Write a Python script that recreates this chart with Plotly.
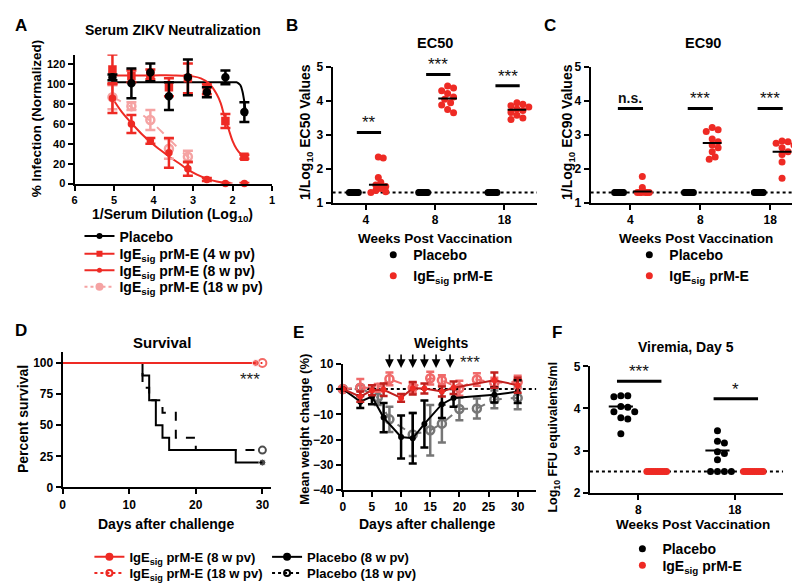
import plotly.graph_objects as go

FONT = "Liberation Sans, Arial, sans-serif"
W, H = 800, 587
RED = "#ee2a24"
PINK = "#f5a3a3"
DARKRED = "#c0201e"
GREY = "#767676"

# ---------------- Panel A: neutralization ----------------
dilution_log = [5.04, 4.56, 4.08, 3.61, 3.13, 2.65, 2.18, 1.70]
placebo_inf = [107, 101, 112, 88, 107, 92, 107, 72]
placebo_err = [3, 15, 9, 14, 18, 5, 7, 10]
ige4_inf = [115, 108, 110, 97, 106, 95, 63, 27]
ige4_err = [15, 6, 5, 9, 15, 5, 7, 2]
ige8_inf = [86, 60, 43, 31, 15, 4, 0, 0]
ige8_err = [15, 9, 3, 15, 7, 1.5, 0.5, 0.5]
dilution_log_18 = [5.04, 4.56, 4.08, 3.61, 3.13]
ige18_inf = [87, 78, 64, 35, 27]
ige18_err = [12, 4, 10, 10, 6]
# fitted curves
placebo_fit_x = [5.04, 4.5, 4.0, 3.5, 3.0, 2.5, 2.2, 2.0, 1.9, 1.85, 1.8, 1.75, 1.7, 1.65]
placebo_fit_y = [102, 102, 102, 102, 102, 102, 102, 102, 102, 101, 99, 93, 82, 68]
ige4_fit_x = [5.04, 4.5, 4.0, 3.5, 3.0, 2.8, 2.6, 2.4, 2.3, 2.2, 2.1, 2.0, 1.9, 1.8, 1.7]
ige4_fit_y = [109, 109, 109, 109, 108, 106, 101, 90, 81, 67, 55, 43, 35, 30, 27]
ige8_fit_x = [5.04, 4.8, 4.56, 4.3, 4.08, 3.8, 3.6, 3.3, 3.13, 2.9, 2.65, 2.4, 2.18, 2.0]
ige8_fit_y = [86, 72, 61, 50, 42, 33, 27, 19, 14, 9, 5, 2, 0.5, 0]
ige18_fit_x = [5.04, 4.56, 4.08, 3.61, 3.3, 3.13, 3.0]
ige18_fit_y = [87, 77, 63, 45, 33, 27, 22]

# ---------------- Panels B / C: EC50 / EC90 ----------------
weeks_labels = ["4", "8", "18"]
ec50_placebo = [[1.3] * 10, [1.3] * 10, [1.3] * 10]
ec50_ige = [[2.35, 2.32, 1.74, 1.6, 1.52, 1.48, 1.42, 1.36, 1.32, 1.3],
            [4.44, 4.38, 4.3, 4.22, 4.12, 4.05, 3.95, 3.88, 3.75, 3.65],
            [3.95, 3.9, 3.86, 3.82, 3.76, 3.72, 3.66, 3.58, 3.5, 3.45]]
ec50_ige_median = [1.53, 4.07, 3.74]
ec50_sig_y = [3.07, 4.78, 4.45]
ec50_sig_txt = ["**", "***", "***"]

ec90_placebo = [[1.3] * 10, [1.3] * 10, [1.3] * 10]
ec90_ige = [[1.77, 1.45, 1.37, 1.32, 1.3, 1.3, 1.3, 1.3, 1.3, 1.3],
            [3.22, 3.15, 3.1, 2.88, 2.8, 2.7, 2.62, 2.5, 2.35, 2.28],
            [2.82, 2.8, 2.75, 2.7, 2.62, 2.5, 2.42, 2.2, 1.72]]
ec90_ige_median = [1.33, 2.76, 2.5]
ec90_sig_y = [3.78, 3.78, 3.78]
ec90_sig_txt = ["n.s.", "***", "***"]
lod_ec = 1.3

# ---------------- Panel D: survival ----------------
surv_days_ige8 = [0, 29]
surv_ige8 = [100, 100]
surv_days_ige18 = [0, 30]
surv_ige18 = [100, 100]
surv_days_pl8 = [0, 12, 13, 14, 15, 16, 26, 30]
surv_pl8 = [100, 90, 70, 50, 40, 30, 20, 20]
surv_days_pl18 = [0, 12, 13, 15, 17, 20, 30]
surv_pl18 = [100, 80, 70, 60, 40, 30, 30]

# ---------------- Panel E: weights ----------------
e_days_8 = [0, 3, 5, 7, 10, 12, 14, 17, 19, 26, 30]
e_pl8 = [0, -5, -3, -11.3, -19, -19.5, -13.8, -6, -3.5, -2.3, -1]
e_pl8_err = [0, 2.5, 3, 5.8, 8.5, 10, 9.3, 5.5, 3.5, 3, 4.5]
e_ige8 = [0, -3, -0.5, -0.3, -3.5, 0.3, 0.2, -1, 0.5, 3.5, 1.5]
e_ige8_err = [0, 2, 2, 2.5, 1.5, 2.5, 2, 2, 2.5, 3, 3]
e_days_18 = [0, 3, 6, 8, 12, 15, 17, 20, 23, 26, 30]
e_pl18 = [0, 0.5, -3.3, -12, -18, -16.3, -13.7, -7.9, -7.7, -4.1, -3.5]
e_pl18_err = [0, 1, 3, 5, 8.5, 10, 7.5, 4.5, 4, 3.5, 4.5]
e_ige18 = [0, 0.5, 0.5, 4, 0.5, 4.3, 3.5, 0.3, 3.8, 2.5, 2.8]
e_ige18_err = [0, 3.5, 1.5, 2.5, 2, 2.5, 2, 3, 2.5, 2, 2.5]
arrow_days = [8, 10, 12, 14, 16, 18.4]

# ---------------- Panel F: viremia ----------------
vir_labels = ["8", "18"]
vir_placebo = [[4.3, 4.3, 4.28, 4.05, 4.03, 3.92, 3.92, 3.78, 3.75, 3.4],
               [3.47, 3.22, 3.18, 2.97, 2.93, 2.78, 2.5, 2.5, 2.5, 2.5]]
vir_placebo_median = [4.05, 3.0]
vir_ige = [[2.5] * 10, [2.5] * 10]
vir_sig_y = [4.65, 4.23]
vir_sig_txt = ["***", "*"]
lod_vir = 2.5


# ---------------- helpers ----------------
def swarm(values, dmin, sx, sy):
    """Beeswarm offsets (in data units) so markers do not overlap more than dmin px."""
    order = sorted(range(len(values)), key=lambda i: -values[i])
    placed, offs = [], [0.0] * len(values)
    step = dmin / 2.0
    for i in order:
        yp = values[i] * sy
        for k in range(400):
            c = 0.0 if k == 0 else step * ((k + 1) // 2) * (1 if k % 2 else -1)
            if all((c - px) ** 2 + (yp - py) ** 2 >= dmin ** 2 - 1e-9 for px, py in placed):
                break
        placed.append((c, yp))
        offs[i] = c / sx
    return offs


def bold(size, color="black"):
    return dict(family=FONT, size=size, color=color, weight="bold")


def px_x(p):
    return p / W


def px_y(p):
    return 1 - p / H


annotations = []
shapes = []


def txt(x, y, s, size, xanchor="center", yanchor="middle", angle=0, weight="bold", color="black"):
    annotations.append(dict(x=px_x(x), y=px_y(y), xref="paper", yref="paper", text=s, showarrow=False,
                            font=dict(family=FONT, size=size, color=color, weight=weight),
                            xanchor=xanchor, yanchor=yanchor, textangle=angle))


def axis(dom, rng, anchor, size=12, **kw):
    d = dict(domain=dom, range=rng, anchor=anchor, showline=True, linewidth=2, linecolor="black",
             ticks="outside", ticklen=5, tickwidth=2, tickcolor="black", showgrid=False, zeroline=False,
             tickfont=bold(size), fixedrange=True)
    d.update(kw)
    return d


fig = go.Figure()

# ---------------- Panel A traces ----------------
ax = dict(xaxis="x", yaxis="y")
for fx, fy, col, dash in [(placebo_fit_x, placebo_fit_y, "black", "solid"),
                          (ige4_fit_x, ige4_fit_y, RED, "solid"),
                          (ige8_fit_x, ige8_fit_y, RED, "solid"),
                          (ige18_fit_x, ige18_fit_y, PINK, "dash")]:
    fig.add_trace(go.Scatter(x=fx, y=fy, mode="lines", line=dict(color=col, width=2, dash=dash, shape="spline"),
                             showlegend=False, cliponaxis=False, hoverinfo="skip", **ax))
for xs, ys, es, col, sym, sz in [(dilution_log_18, ige18_inf, ige18_err, PINK, "circle-open", 8),
                                 (dilution_log, ige4_inf, ige4_err, RED, "square", 6),
                                 (dilution_log, ige8_inf, ige8_err, RED, "circle", 5),
                                 (dilution_log, placebo_inf, placebo_err, "black", "circle", 6)]:
    fig.add_trace(go.Scatter(x=xs, y=ys, mode="markers",
                             marker=dict(color=col, symbol=sym, size=sz, line=dict(color=col, width=2.5)),
                             error_y=dict(type="data", array=es, color=col, thickness=2.5, width=5),
                             showlegend=False, cliponaxis=False, **ax))
for name, col, sym, sz, dash, lg in [("Placebo", "black", "circle", 6, "solid", "legend"),
                                     ("IgE<sub>sig</sub> prM-E (4 w pv)", RED, "square", 6, "solid", "legend7"),
                                     ("IgE<sub>sig</sub> prM-E (8 w pv)", RED, "circle", 5, "solid", "legend8"),
                                     ("IgE<sub>sig</sub> prM-E (18 w pv)", PINK, "circle", 8, "dot", "legend9")]:
    fig.add_trace(go.Scatter(x=[None], y=[None], mode="lines+markers", name=name,
                             line=dict(color=col, width=2, dash=dash), marker=dict(color=col, symbol=sym, size=sz),
                             legend=lg, **ax))


# ---------------- Panels B, C, F scatter ----------------
def dot_panel(xa, ya, pl_groups, ige_groups, ige_medians, pl_medians, sx, sy, off, mw, legends,
              dmin_pl, dmin_ige, lod, sig_y, sig_txt, sig_span, xr):
    plx, ply, igx, igy = [], [], [], []
    for i, g in enumerate(pl_groups):
        o = swarm(g, dmin_pl[i], sx, sy)
        plx += [i - off + v for v in o]
        ply += g
    for i, g in enumerate(ige_groups):
        o = swarm(g, dmin_ige[i], sx, sy)
        igx += [i + off + v for v in o]
        igy += g
    fig.add_trace(go.Scatter(x=plx, y=ply, mode="markers", name="Placebo", marker=dict(color="black", size=7),
                             xaxis=xa, yaxis=ya, legend=legends[0], cliponaxis=False))
    fig.add_trace(go.Scatter(x=igx, y=igy, mode="markers", name="IgE<sub>sig</sub> prM-E",
                             marker=dict(color=RED, size=7), xaxis=xa, yaxis=ya, legend=legends[1], cliponaxis=False))
    shapes.append(dict(type="line", xref=xa, yref=ya, x0=xr[0], x1=xr[1], y0=lod, y1=lod,
                       line=dict(color="black", width=2, dash="dot"), layer="below"))
    for i, m in enumerate(ige_medians):
        shapes.append(dict(type="line", xref=xa, yref=ya, x0=i + off - mw / 2, x1=i + off + mw / 2, y0=m, y1=m,
                           line=dict(color="black", width=2)))
    for i, m in enumerate(pl_medians):
        shapes.append(dict(type="line", xref=xa, yref=ya, x0=i - off - mw / 2, x1=i - off + mw / 2, y0=m, y1=m,
                           line=dict(color="black", width=2)))
    for i, (sy_, st) in enumerate(zip(sig_y, sig_txt)):
        shapes.append(dict(type="line", xref=xa, yref=ya, x0=i + sig_span[0], x1=i + sig_span[1], y0=sy_, y1=sy_,
                           line=dict(color="black", width=3)))
        ns = st == "n.s."
        annotations.append(dict(x=i + (sig_span[0] + sig_span[1]) / 2, y=sy_, xref=xa, yref=ya, text=st,
                                showarrow=False, yanchor="bottom", yshift=0 if ns else -2,
                                font=dict(family=FONT, size=14 if ns else 17, color="#111",
                                          weight="bold" if ns else "normal")))


B_xr = [-0.48, 2.47]
C_xr = [-0.57, 2.47]
F_xr = [-0.5, 1.5]
dot_panel("x2", "y2", ec50_placebo, ec50_ige, ec50_ige_median, [], 70, 34.75, 0.18, 0.27, ("legend2", "legend2"),
          [1.0] * 3, [5, 6, 6], lod_ec, ec50_sig_y, ec50_sig_txt, (-0.13, 0.22), B_xr)
dot_panel("x3", "y3", ec90_placebo, ec90_ige, ec90_ige_median, [], 70.5, 34.75, 0.17, 0.27, ("legend3", "legend3"),
          [1.0] * 3, [2, 6, 6], lod_ec, ec90_sig_y, ec90_sig_txt, (-0.18, 0.18), C_xr)
dot_panel("x6", "y6", vir_placebo, vir_ige, [], vir_placebo_median, 97.3, 43.1, 0.18, 0.25, ("legend6", "legend12"),
          [7, 7], [2.2, 2.2], lod_vir, vir_sig_y, vir_sig_txt, (-0.22, 0.24), F_xr)


# ---------------- Panel D traces ----------------
def end_sizes(n, s):
    return [0] * (n - 1) + [s]


axd = dict(xaxis="x4", yaxis="y4", showlegend=False, cliponaxis=False)
fig.add_trace(go.Scatter(x=surv_days_pl18, y=surv_pl18, mode="lines+markers", line=dict(color="black", width=2, dash="dash", shape="hv"),
                         marker=dict(size=end_sizes(len(surv_pl18), 7), symbol="circle-open", color="black", line=dict(width=2)), **axd))
fig.add_trace(go.Scatter(x=surv_days_pl8, y=surv_pl8, mode="lines+markers", line=dict(color="black", width=2, shape="hv"),
                         marker=dict(size=end_sizes(len(surv_pl8), 7), color="black"), **axd))
fig.add_trace(go.Scatter(x=surv_days_ige18, y=surv_ige18, mode="lines+markers", line=dict(color=RED, width=2, dash="dash", shape="hv"),
                         marker=dict(size=end_sizes(len(surv_ige18), 8), symbol="circle-open", color=RED, line=dict(width=2)), **axd))
fig.add_trace(go.Scatter(x=surv_days_ige8, y=surv_ige8, mode="lines+markers", line=dict(color=RED, width=2, shape="hv"),
                         marker=dict(size=end_sizes(len(surv_ige8), 7), color=RED), **axd))

# ---------------- Panel E traces ----------------
axe = dict(xaxis="x5", yaxis="y5", showlegend=False, cliponaxis=False)
fig.add_trace(go.Scatter(x=e_days_18, y=e_pl18, mode="lines+markers", line=dict(color=GREY, width=2, dash="dash"),
                         marker=dict(symbol="circle-open", size=8, color=GREY, line=dict(width=2.5)),
                         error_y=dict(type="data", array=e_pl18_err, color=GREY, thickness=2.5, width=4), **axe))
fig.add_trace(go.Scatter(x=e_days_18, y=e_ige18, mode="lines+markers", line=dict(color="#f06a6a", width=2, dash="dash"),
                         marker=dict(symbol="circle-open", size=8, color="#f06a6a", line=dict(width=2.5)),
                         error_y=dict(type="data", array=e_ige18_err, color="#f06a6a", thickness=2.5, width=4), **axe))
fig.add_trace(go.Scatter(x=e_days_8, y=e_pl8, mode="lines+markers", line=dict(color="black", width=2),
                         marker=dict(size=6, color="black"),
                         error_y=dict(type="data", array=e_pl8_err, color="black", thickness=2.5, width=4), **axe))
fig.add_trace(go.Scatter(x=e_days_8, y=e_ige8, mode="lines+markers", line=dict(color=DARKRED, width=2),
                         marker=dict(size=6, color=RED),
                         error_y=dict(type="data", array=e_ige8_err, color=DARKRED, thickness=2.5, width=4), **axe))
shapes.append(dict(type="line", xref="x5", yref="y5", x0=0, x1=33.2, y0=0, y1=0,
                   line=dict(color="black", width=2, dash="dot"), layer="below"))
for d in arrow_days:
    annotations.append(dict(x=d, y=8.3, xref="x5", yref="y5", text="", showarrow=True, ax=0, ay=-15,
                            arrowhead=2, arrowsize=1.1, arrowwidth=1.6, arrowcolor="black"))

# legends for D/E (one legend per entry for exact placement)
for name, col, dash, sym, lg in [("IgE<sub>sig</sub> prM-E (8 w pv)", RED, "solid", "circle", "legend4"),
                                 ("IgE<sub>sig</sub> prM-E (18 w pv)", RED, "dot", "circle-open", "legend10"),
                                 ("Placebo (8 w pv)", "black", "solid", "circle", "legend5"),
                                 ("Placebo (18 w pv)", "black", "dot", "circle-open", "legend11")]:
    fig.add_trace(go.Scatter(x=[None], y=[None], mode="lines+markers", name=name, legend=lg,
                             line=dict(color=col, width=2, dash=dash),
                             marker=dict(color=col, symbol=sym, size=6, line=dict(width=2, color=col)),
                             xaxis="x5", yaxis="y5"))

# ---------------- Texts ----------------
txt(2, 11, "A", 17, xanchor="left")
txt(163, 15, "Serum ZIKV Neutralization", 14)
txt(163, 205, "1/Serum Dilution (Log<sub>10</sub>)", 14)
txt(26, 106, "% Infection (Normalized)", 13.5, angle=-90)

txt(275, 11, "B", 17, xanchor="left")
txt(427, 29, "EC50", 14.5)
txt(427, 229, "Weeks Post Vaccination", 13.5)
txt(297, 120, "1/Log<sub>10</sub> EC50 Values", 14, angle=-90)

txt(535, 11, "C", 17, xanchor="left")
txt(697, 29, "EC90", 14.5)
txt(690, 229, "Weeks Post Vaccination", 13.5)
txt(561, 120, "1/Log<sub>10</sub> EC90 Values", 14, angle=-90)

txt(2, 323, "D", 17, xanchor="left")
txt(152, 336, "Survival", 15)
txt(156, 521, "Days after challenge", 14)
txt(12, 414, "Percent survival", 14, angle=-90)
annotations.append(dict(x=28.2, y=87, xref="x4", yref="y4", text="***", showarrow=False,
                        font=dict(family=FONT, size=17, color="#222")))

txt(282, 325, "E", 17, xanchor="left")
txt(433, 336, "Weights", 14)
txt(419, 521, "Days after challenge", 14)
txt(296, 424, "Mean weight change (%)", 13, angle=-90)
annotations.append(dict(x=21.9, y=px_y(356), xref="x5", yref="paper", text="***", showarrow=False,
                        font=dict(family=FONT, size=17, color="#222")))

txt(543, 325, "F", 17, xanchor="left")
txt(680, 340, "Viremia, Day 5", 14)
txt(687, 522, "Weeks Post Vaccination", 13.5)
txt(547, 432, "Log<sub>10</sub> FFU equivalents/ml", 12.5, angle=-90)


def legend(text_x, first_y, size=14, off=25.5):
    return dict(x=px_x(text_x - 49), y=px_y(first_y - off), xanchor="left", yanchor="top", font=bold(size),
                bgcolor="rgba(0,0,0,0)", traceorder="normal", tracegroupgap=0, itemwidth=30)


def legend_b(text_x, center_y, size=14, off=13.5):
    # bottom-anchored single-entry legend
    return dict(x=px_x(text_x - 49), y=max(0.0, px_y(center_y + off)), xanchor="left", yanchor="bottom",
                font=bold(size), bgcolor="rgba(0,0,0,0)", traceorder="normal", tracegroupgap=0, itemwidth=30)


fig.update_layout(
    width=W, height=H, margin=dict(l=0, r=0, t=0, b=0),
    paper_bgcolor="white", plot_bgcolor="white", showlegend=True,
    xaxis=axis([px_x(64), px_x(263)], [6, 1], "y", size=11, tickvals=[6, 5, 4, 3, 2, 1]),
    yaxis=axis([px_y(172.7), px_y(40.5)], [0, 130], "x", size=11, tickvals=[0, 20, 40, 60, 80, 100, 120]),
    xaxis2=axis([px_x(324), px_x(530)], B_xr, "y2", tickvals=[0, 1, 2], ticktext=weeks_labels),
    yaxis2=axis([px_y(192.3), px_y(53.3)], [1, 5], "x2", tickvals=[1, 2, 3, 4, 5]),
    xaxis3=axis([px_x(584), px_x(798)], C_xr, "y3", tickvals=[0, 1, 2], ticktext=weeks_labels),
    yaxis3=axis([px_y(192.3), px_y(53.3)], [1, 5], "x3", tickvals=[1, 2, 3, 4, 5]),
    xaxis4=axis([px_x(52), px_x(262)], [0, 31.3], "y4", tickvals=[0, 10, 20, 30]),
    yaxis4=axis([px_y(484), px_y(345)], [0, 109], "x4", tickvals=[0, 25, 50, 75, 100]),
    xaxis5=axis([px_x(334.3), px_x(529.3)], [0, 33.2], "y5", tickvals=[0, 5, 10, 15, 20, 25, 30]),
    yaxis5=axis([px_y(486.7), px_y(357.3)], [-40, 10], "x5", tickvals=[-40, -30, -20, -10, 0, 10]),
    xaxis6=axis([px_x(583.3), px_x(778)], F_xr, "y6", tickvals=[0, 1], ticktext=vir_labels),
    yaxis6=axis([px_y(489.3), px_y(360)], [2, 5], "x6", tickvals=[2, 3, 4, 5]),
    legend=legend(118, 236),
    legend7=legend(118, 254),
    legend8=legend(118, 271),
    legend9=legend(118, 288),
    legend2=legend(414, 255),
    legend3=legend(672, 255),
    legend4=legend_b(128, 557, 13),
    legend10=legend_b(128, 577, 13),
    legend5=legend_b(307, 557, 13),
    legend11=legend_b(307, 577, 13),
    legend6=legend_b(665, 550),
    legend12=legend_b(665, 567),
    annotations=annotations,
    shapes=shapes,
)

fig.write_html("out.html")
